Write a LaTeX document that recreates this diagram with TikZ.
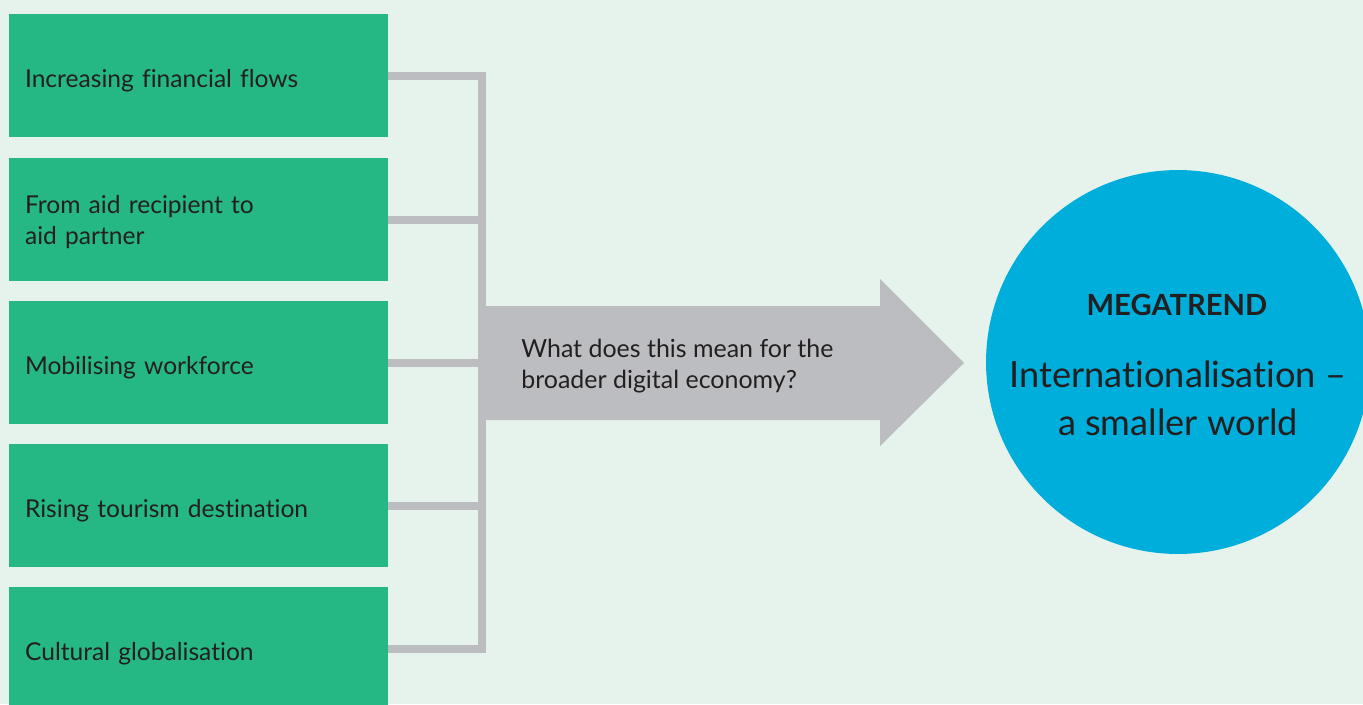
\documentclass[tikz,border=0pt]{standalone}
\usepackage{fontspec}
\setmainfont{Lato}[Ligatures=NoCommon]
\usetikzlibrary{positioning,calc}

\definecolor{bgmint}{RGB}{229,243,236}
\definecolor{trendgreen}{RGB}{38,184,132}
\definecolor{linkgray}{RGB}{188,189,193}
\definecolor{trendblue}{RGB}{0,174,219}
\definecolor{ink}{RGB}{35,31,32}

\begin{document}
\begin{tikzpicture}[
  x=0.02cm, y=-0.02cm,
  trend/.style={fill=trendgreen, minimum width=7.58cm, minimum height=2.46cm, text width=6.94cm, inner xsep=0.32cm, align=left, text=ink, font=\fontsize{14}{18.2}\selectfont, text height=0.46cm, text depth=0pt},
  link/.style={draw=linkgray, line width=0.16cm, line join=miter},
]
\useasboundingbox (0,0) rectangle (1363,704);
\fill[bgmint] (0,0) rectangle (1363,704);
\clip (0,0) rectangle (1363,704);

% left: the five trends
\node[trend] (b1) at (198.5,75.5) {Increasing financial flows};
\node[trend, text height=0.4cm, text depth=0.66cm] (b2) at (198.5,219.5) {From aid recipient to\\aid partner};
\node[trend] (b3) at (198.5,362.5) {Mobilising workforce};
\node[trend] (b4) at (198.5,505.5) {Rising tourism destination};
\node[trend] (b5) at (198.5,648.5) {Cultural globalisation};

% bracket
\coordinate (bar) at (482,0);
\draw[link] (b1.east) -- (b1.east -| bar) -- (b5.east -| bar) -- (b5.east);
\foreach \b in {b2,b3,b4}
  \draw[link] (\b.east) -- (\b.east -| bar);

% big arrow
\fill[linkgray] (486,306) -- (880,306) -- (880,279) -- (964,363) -- (880,446) -- (880,420) -- (486,420) -- cycle;
\node[anchor=base west, inner sep=0, align=left, text=ink, font=\fontsize{14.2}{17.6}\selectfont] (question) at (521,388) {What does this mean for the\\broader digital economy?};

% right: megatrend
\node[circle, fill=trendblue, minimum size=7.68cm, inner sep=0] (mega) at (1178,362) {};
\node[anchor=base, inner sep=0, text=ink, font=\fontsize{16.6}{20}\selectfont\bfseries] (megalabel) at (1177,315) {MEGATREND};
\node[anchor=base, inner sep=0, align=center, text=ink, font=\fontsize{20.6}{27.3}\selectfont] (megatitle) at (1178,435) {Internationalisation --\\a smaller world};

\end{tikzpicture}
\end{document}
